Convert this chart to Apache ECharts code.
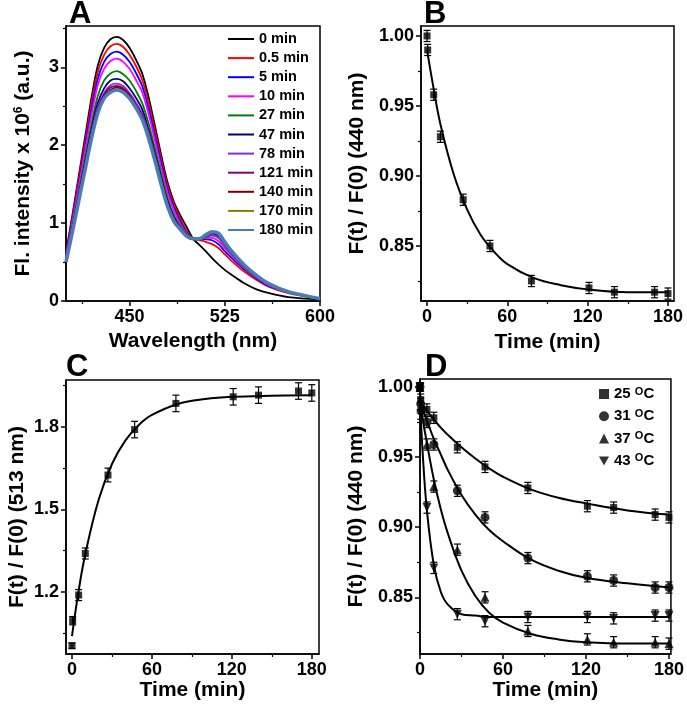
<!DOCTYPE html>
<html><head><meta charset="utf-8">
<script src="https://cdn.jsdelivr.net/npm/echarts@6/dist/echarts.min.js"></script>
<style>html,body{margin:0;padding:0;background:#fff}#c{width:687px;height:711px}</style>
</head><body><div id="c"></div>
<script>
// ---------- Panel A: spectra ----------
const wavelengths = [400,405,410,415,420,425,430,435,440,445,450,455,460,465,470,475,480,485,490,495,500,505,510,515,520,525,530,540,550,560,575,600];
const specNames = ['0 min','0.5 min','5 min','10 min','27 min','47 min','78 min','121 min','140 min','170 min','180 min'];
const specColors = ['#000000','#ff0000','#0000ff','#ff00ff','#008000','#000080','#8a2be2','#800080','#800000','#808000','#4a7db8'];
const spec0   = [0.62,1.10,1.60,2.10,2.60,3.02,3.25,3.36,3.39,3.35,3.25,3.10,2.92,2.62,2.25,1.87,1.52,1.27,1.10,0.95,0.80,0.72,0.64,0.55,0.47,0.40,0.34,0.23,0.15,0.10,0.05,0.02];
const spec05  = [0.60,1.07,1.56,2.04,2.53,2.94,3.16,3.27,3.30,3.26,3.16,3.02,2.84,2.55,2.19,1.82,1.48,1.24,1.06,0.90,0.80,0.78,0.76,0.73,0.68,0.60,0.52,0.38,0.27,0.18,0.10,0.03];
const spec5   = [0.59,1.04,1.51,1.98,2.45,2.85,3.07,3.17,3.20,3.16,3.07,2.93,2.76,2.47,2.12,1.77,1.43,1.20,1.02,0.88,0.80,0.79,0.79,0.78,0.73,0.64,0.56,0.41,0.29,0.19,0.11,0.03];
const spec10  = [0.57,1.01,1.47,1.93,2.38,2.77,2.98,3.08,3.11,3.07,2.98,2.84,2.68,2.40,2.06,1.71,1.39,1.16,0.99,0.87,0.80,0.79,0.81,0.81,0.77,0.68,0.59,0.43,0.30,0.20,0.11,0.03];
const spec27  = [0.54,0.96,1.39,1.83,2.26,2.63,2.83,2.92,2.95,2.91,2.83,2.70,2.54,2.28,1.96,1.63,1.32,1.10,0.96,0.86,0.80,0.79,0.82,0.84,0.81,0.71,0.61,0.44,0.31,0.21,0.11,0.03];
const spec47  = [0.52,0.93,1.35,1.77,2.19,2.54,2.73,2.83,2.85,2.82,2.73,2.61,2.46,2.20,1.89,1.57,1.28,1.07,0.94,0.85,0.80,0.80,0.83,0.86,0.83,0.73,0.63,0.45,0.32,0.21,0.12,0.03];
const spec78  = [0.51,0.91,1.32,1.73,2.14,2.49,2.67,2.77,2.79,2.76,2.67,2.55,2.40,2.16,1.85,1.54,1.25,1.05,0.93,0.85,0.80,0.80,0.83,0.85,0.82,0.72,0.62,0.45,0.32,0.21,0.12,0.03];
const spec121 = [0.50,0.90,1.30,1.71,2.12,2.46,2.65,2.74,2.76,2.73,2.65,2.52,2.38,2.13,1.83,1.52,1.24,1.04,0.93,0.84,0.80,0.80,0.84,0.87,0.85,0.74,0.64,0.46,0.32,0.22,0.12,0.03];
const spec140 = [0.50,0.89,1.29,1.70,2.10,2.44,2.63,2.71,2.74,2.71,2.63,2.50,2.36,2.12,1.82,1.51,1.23,1.03,0.92,0.84,0.80,0.80,0.84,0.88,0.86,0.75,0.64,0.46,0.33,0.22,0.12,0.03];
const spec170 = [0.50,0.88,1.28,1.68,2.09,2.42,2.61,2.69,2.72,2.69,2.61,2.49,2.34,2.10,1.80,1.50,1.22,1.03,0.92,0.83,0.80,0.80,0.85,0.88,0.86,0.75,0.65,0.47,0.33,0.22,0.12,0.03];
const spec180 = [0.50,0.88,1.28,1.68,2.08,2.41,2.60,2.68,2.71,2.68,2.60,2.48,2.33,2.09,1.80,1.49,1.21,1.02,0.92,0.83,0.80,0.80,0.85,0.89,0.87,0.76,0.65,0.47,0.33,0.22,0.12,0.03];
const spectra = [spec0,spec05,spec5,spec10,spec27,spec47,spec78,spec121,spec140,spec170,spec180];
const aXLabels = [450,525,600], aXMinor = [412.5,487.5,562.5];
const aYLabels = [0,1,2,3], aYMinor = [0.5,1.5,2.5,3.5];

// ---------- common time points ----------
const times = [0,0.5,5,10,27,47,78,121,140,170,180];

// ---------- Panel B ----------
const bValues = [1.000,0.990,0.958,0.928,0.883,0.850,0.825,0.820,0.817,0.817,0.816];
const bErrors = [0.004,0.004,0.004,0.004,0.004,0.004,0.004,0.004,0.004,0.004,0.004];
const fitTimes = [0,5,10,20,30,40,50,60,80,100,120,150,180];
const bFit = [0.990,0.962,0.937,0.901,0.876,0.858,0.846,0.837,0.827,0.822,0.819,0.817,0.817];
const bxLabels = [0,60,120,180], bxMinor = [30,90,150];
const byLabels = [0.85,0.90,0.95,1.00], byMinor = [0.825,0.875,0.925,0.975];

// ---------- Panel C ----------
const cValues = [1.005,1.096,1.189,1.340,1.625,1.790,1.885,1.909,1.915,1.930,1.923];
const cErrors = [0.010,0.015,0.020,0.020,0.025,0.030,0.030,0.030,0.030,0.030,0.030];
const cFit = [1.040,1.205,1.338,1.535,1.665,1.750,1.806,1.843,1.884,1.901,1.909,1.913,1.915];
const cyLabels = [1.2,1.5,1.8], cyMinor = [1.05,1.35,1.65,1.95];

// ---------- Panel D ----------
const dNames = ['25','31','37','43'];
const d25 = [1.000,0.991,0.984,0.978,0.957,0.943,0.928,0.915,0.914,0.909,0.907];
const d31 = [1.000,0.988,0.975,0.959,0.926,0.907,0.878,0.865,0.862,0.857,0.857];
const d37 = [1.000,0.985,0.959,0.929,0.884,0.850,0.826,0.820,0.818,0.818,0.817];
const d43 = [1.000,0.981,0.914,0.871,0.838,0.833,0.836,0.836,0.835,0.837,0.837];
const dErr = [0.003,0.004,0.004,0.004,0.004,0.004,0.004,0.004,0.004,0.004,0.004];
const dFitTimes = [0,2,5,10,15,20,30,40,50,60,80,100,120,150,180];
const d25Fit = [0.990,0.987,0.983,0.977,0.971,0.966,0.957,0.949,0.942,0.936,0.927,0.921,0.917,0.912,0.909];
const d31Fit = [0.990,0.984,0.976,0.963,0.952,0.941,0.923,0.909,0.898,0.890,0.877,0.869,0.864,0.860,0.857];
const d37Fit = [0.990,0.977,0.960,0.934,0.913,0.896,0.869,0.851,0.839,0.832,0.824,0.820,0.818,0.817,0.817];
const d43Fit = [0.990,0.952,0.912,0.873,0.854,0.845,0.838,0.837,0.836,0.836,0.836,0.836,0.836,0.836,0.836];

// ---------- build ----------
const FONT = 'Liberation Sans';
const BLACK = '#000';
const tickFs = 18, nameFs = 21;

function axisPair(kind, gridIndex, min, max, labels, minors, fmt, name, nameGap, rich) {
  const pos = kind === 'x' ? 'bottom' : 'left';
  const main = {
    type: 'value', gridIndex, min, max, position: pos,
    axisLine: {show: true, onZero: false, lineStyle: {color: BLACK, width: 1.5}},
    axisTick: {show: true, inside: false, length: 5, customValues: labels, lineStyle: {color: BLACK, width: 1.5}},
    axisLabel: {customValues: labels, margin: 7, color: BLACK, fontSize: tickFs, fontWeight: 'bold', fontFamily: FONT, formatter: fmt},
    splitLine: {show: false},
    name, nameLocation: 'middle', nameGap,
    nameTextStyle: {color: BLACK, fontSize: nameFs, fontWeight: 'bold', fontFamily: FONT, rich: rich}
  };
  const minor = {
    type: 'value', gridIndex, min, max, position: pos,
    axisLine: {show: false, onZero: false},
    axisTick: {show: true, inside: false, length: 3, customValues: minors, lineStyle: {color: BLACK, width: 1.2}},
    axisLabel: {show: false}, splitLine: {show: false}
  };
  return [main, minor];
}

const supRich = {sup: {fontSize: 12, fontWeight: 'bold', fontFamily: FONT, color: BLACK, verticalAlign: 'top', padding: [0, 0, 0, 0]}};
const f0 = v => String(Math.round(v));
const f1 = v => v.toFixed(1);
const f2 = v => v.toFixed(2);

const xAxes = [].concat(
  axisPair('x', 0, 400, 600, aXLabels, aXMinor, f0, 'Wavelength (nm)', 30),
  axisPair('x', 1, -4.5, 184.5, bxLabels, bxMinor, f0, 'Time (min)', 31),
  axisPair('x', 2, -4.5, 185.4, bxLabels, bxMinor, f0, 'Time (min)', 26),
  axisPair('x', 3, 0, 181.4, bxLabels, bxMinor, f0, 'Time (min)', 25)
);
const yAxes = [].concat(
  axisPair('y', 0, 0, 3.53, aYLabels, aYMinor, f0, 'Fl. intensity x 10{sup|6} (a.u.)', 32, supRich),
  axisPair('y', 1, 0.8107, 1.0071, byLabels, byMinor, f2, 'F(t) / F(0) (440 nm)', 53),
  axisPair('y', 2, 0.975, 1.97, cyLabels, cyMinor, f1, 'F(t) / F(0) (513 nm)', 38),
  axisPair('y', 3, 0.8096, 1.0057, byLabels, byMinor, f2, 'F(t) / F(0) (440 nm)', 53)
);

const series = [];
spectra.forEach((arr, k) => {
  series.push({
    name: specNames[k], type: 'line', xAxisIndex: 0, yAxisIndex: 0,
    data: wavelengths.map((w, i) => [w, arr[i]]),
    smooth: 0.3, symbol: 'none', clip: true,
    lineStyle: {color: specColors[k], width: k === 10 ? 3.5 : 1.8},
    itemStyle: {color: specColors[k]}, z: 2 + k
  });
});

function errSeries(xi, yi, vals, errs) {
  return {
    type: 'custom', xAxisIndex: xi, yAxisIndex: yi, silent: true, z: 20, clip: false,
    data: times.map((t, i) => [t, vals[i] - errs[i], vals[i] + errs[i]]),
    encode: {x: 0, y: [1, 2]},
    renderItem(params, api) {
      const lo = api.coord([api.value(0), api.value(1)]);
      const hi = api.coord([api.value(0), api.value(2)]);
      const w = 3.5, st = {stroke: BLACK, lineWidth: 1.2};
      return {type: 'group', children: [
        {type: 'line', shape: {x1: lo[0], y1: lo[1], x2: hi[0], y2: hi[1]}, style: st},
        {type: 'line', shape: {x1: lo[0] - w, y1: lo[1], x2: lo[0] + w, y2: lo[1]}, style: st},
        {type: 'line', shape: {x1: hi[0] - w, y1: hi[1], x2: hi[0] + w, y2: hi[1]}, style: st}
      ]};
    }
  };
}
function pts(name, xi, yi, vals, symbol, size, rotate) {
  return {name, type: 'scatter', xAxisIndex: xi, yAxisIndex: yi, clip: false,
    data: times.map((t, i) => [t, vals[i]]), symbol, symbolSize: size, symbolRotate: rotate || 0,
    itemStyle: {color: BLACK}, z: 21};
}
function fit(xi, yi, tt, vals) {
  return {type: 'line', xAxisIndex: xi, yAxisIndex: yi, data: tt.map((t, i) => [t, vals[i]]),
    smooth: 0.4, symbol: 'none', lineStyle: {color: BLACK, width: 2}, z: 15, silent: true};
}

// B
series.push(fit(2, 2, fitTimes, bFit), errSeries(2, 2, bValues, bErrors), pts('B', 2, 2, bValues, 'rect', 7));
// C
series.push(fit(4, 4, fitTimes, cFit), errSeries(4, 4, cValues, cErrors), pts('C', 4, 4, cValues, 'rect', 7));
// D
const invTri = 'path://M0,0 L10,0 L5,9 Z';
series.push(
  fit(6, 6, dFitTimes, d25Fit), fit(6, 6, dFitTimes, d31Fit), fit(6, 6, dFitTimes, d37Fit), fit(6, 6, dFitTimes, d43Fit),
  errSeries(6, 6, d25, dErr), errSeries(6, 6, d31, dErr), errSeries(6, 6, d37, dErr), errSeries(6, 6, d43, dErr),
  pts(dNames[0], 6, 6, d25, 'rect', 7), pts(dNames[1], 6, 6, d31, 'circle', 9),
  pts(dNames[2], 6, 6, d37, 'triangle', 9), pts(dNames[3], 6, 6, d43, invTri, 9)
);

const chart = echarts.init(document.getElementById('c'), null, {renderer: 'canvas'});
const gridBase = {show: true, borderColor: BLACK, borderWidth: 1.5, backgroundColor: 'transparent', containLabel: false};
chart.setOption({
  animation: false,
  backgroundColor: '#fff',
  grid: [
    Object.assign({left: 66, top: 26, width: 254, height: 275}, gridBase),
    Object.assign({left: 421, top: 26, width: 253, height: 275}, gridBase),
    Object.assign({left: 66, top: 380, width: 253, height: 274}, gridBase),
    Object.assign({left: 420, top: 379, width: 254, height: 275}, gridBase)
  ],
  xAxis: xAxes, yAxis: yAxes,
  legend: [
    {data: specNames, orient: 'vertical', left: 223, top: 26, itemWidth: 26, itemHeight: 2, itemGap: 3.1, icon: 'rect',
     textStyle: {color: BLACK, fontSize: 14.5, fontWeight: 'bold', fontFamily: FONT, lineHeight: 16}, selectedMode: false},
    {data: dNames, orient: 'vertical', left: 594, top: 381, itemWidth: 10, itemHeight: 10, itemGap: 6.3, itemStyle: {color: BLACK},
     formatter: n => n + ' {sup|O}C', selectedMode: false,
     textStyle: {color: BLACK, fontSize: 15, fontWeight: 'bold', fontFamily: FONT, lineHeight: 16,
       rich: {sup: {fontSize: 11, fontWeight: 'bold', fontFamily: FONT, color: BLACK, verticalAlign: 'top', lineHeight: 10}}}}
  ],
  graphic: [
    {type: 'text', left: 69, top: -1, style: {text: 'A', font: 'bold 31px "Liberation Sans"', fill: BLACK}},
    {type: 'text', left: 424, top: -1, style: {text: 'B', font: 'bold 31px "Liberation Sans"', fill: BLACK}},
    {type: 'text', left: 66, top: 352, style: {text: 'C', font: 'bold 31px "Liberation Sans"', fill: BLACK}},
    {type: 'text', left: 425, top: 352, style: {text: 'D', font: 'bold 31px "Liberation Sans"', fill: BLACK}}
  ],
  series
});
</script></body></html>
